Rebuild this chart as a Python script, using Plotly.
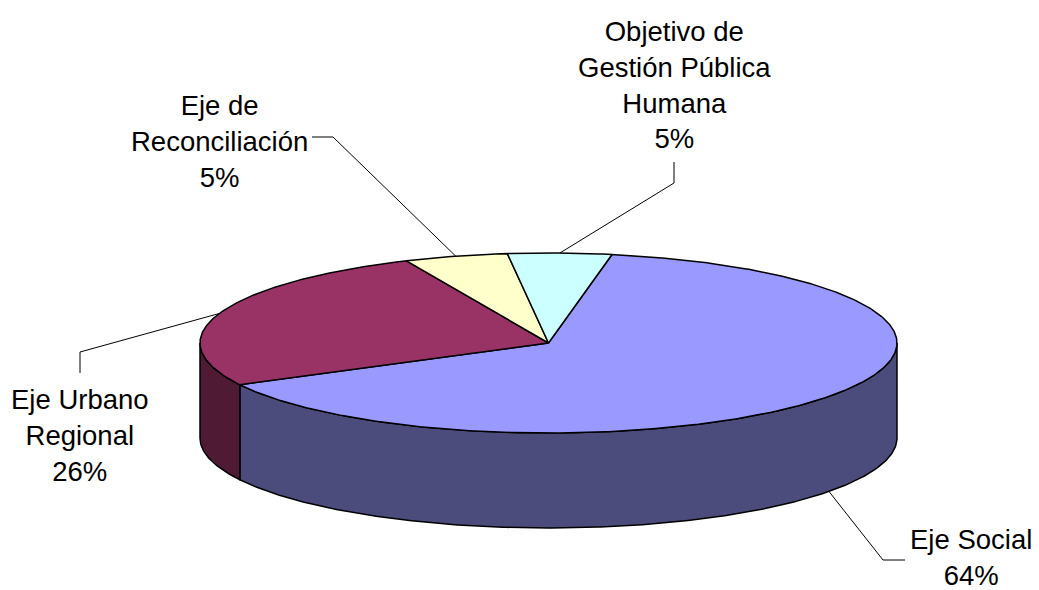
import numpy as np
import plotly.graph_objects as go

# data
labels = ["Eje Social", "Eje Urbano<br>Regional", "Eje de<br>Reconciliación",
          "Objetivo de<br>Gestión Pública<br>Humana"]
values = [64.4, 26.0, 4.8, 4.8]
top_colors = ["#9999FF", "#993366", "#FFFFCC", "#CCFFFF"]
side_colors = ["#4C4C7C", "#4F1A33", "#80805F", "#5F8080"]

# label placement (page pixels): text centre, leader elbow, leader end
label_xy = [(971, 557), (80, 435), (219, 141), (674, 85)]
leader_elbow = [(883, 560), (80, 352), (333, 137), (674, 183)]
leader_end = [(905, 560), (80, 373), (312, 137), (674, 162)]

# pie geometry (pixels)
cx, cy = 548.5, 343
rx, ry = 348.5, 90
depth = 95
start_deg = 10.5


def ell(t_deg, dy=0):
    t = np.radians(t_deg)
    return cx + rx * np.sin(t), cy - ry * np.cos(t) + dy


def arc(a, b, dy=0):
    n = max(int(abs(b - a) * 2), 2)
    t = np.linspace(a, b, n)
    return ell(t, dy)


total = sum(values)
bounds = [start_deg]
for v in values:
    bounds.append(bounds[-1] + v / total * 360)

fig = go.Figure()
line_style = dict(color="black", width=1.5)

# side walls (front half only, 90..270 deg clockwise from top)
for i, v in enumerate(values):
    a, b = bounds[i], bounds[i + 1]
    lo, hi = max(a, 90), min(b, 270)
    if hi <= lo:
        continue
    xt, yt = arc(lo, hi)
    xb, yb = arc(hi, lo, depth)
    xs = np.concatenate([xt, xb, xt[:1]])
    ys = np.concatenate([yt, yb, yt[:1]])
    fig.add_trace(go.Scatter(x=xs, y=ys, mode="lines", fill="toself",
                             fillcolor=side_colors[i], line=line_style,
                             hoverinfo="skip", showlegend=False))

# top faces
for i, v in enumerate(values):
    a, b = bounds[i], bounds[i + 1]
    xt, yt = arc(a, b)
    xs = np.concatenate([[cx], xt, [cx]])
    ys = np.concatenate([[cy], yt, [cy]])
    fig.add_trace(go.Scatter(x=xs, y=ys, mode="lines", fill="toself",
                             fillcolor=top_colors[i], line=line_style,
                             hoverinfo="skip", showlegend=False))

# leader lines + labels
for i, v in enumerate(values):
    mid = (bounds[i] + bounds[i + 1]) / 2
    dy = depth if np.cos(np.radians(mid)) < 0 else 0
    ax_, ay_ = ell(mid, dy)
    fig.add_trace(go.Scatter(
        x=[ax_, leader_elbow[i][0], leader_end[i][0]],
        y=[ay_, leader_elbow[i][1], leader_end[i][1]],
        mode="lines", line=dict(color="black", width=1),
        hoverinfo="skip", showlegend=False))
    fig.add_annotation(x=label_xy[i][0], y=label_xy[i][1], xref="x", yref="y",
                       text=f"{labels[i]}<br>{round(v / total * 100)}%",
                       showarrow=False, xanchor="center", yanchor="middle",
                       font=dict(family="Liberation Sans, Arial", size=27.5, color="black"))

fig.update_layout(
    width=1039, height=590,
    margin=dict(l=0, r=0, t=0, b=0),
    paper_bgcolor="white", plot_bgcolor="white",
    xaxis=dict(range=[0, 1039], visible=False, fixedrange=True),
    yaxis=dict(range=[590, 0], visible=False, fixedrange=True),
    showlegend=False,
)

fig.write_html("out.html", config={"displayModeBar": False},
               post_script="document.body.style.margin='0';")
